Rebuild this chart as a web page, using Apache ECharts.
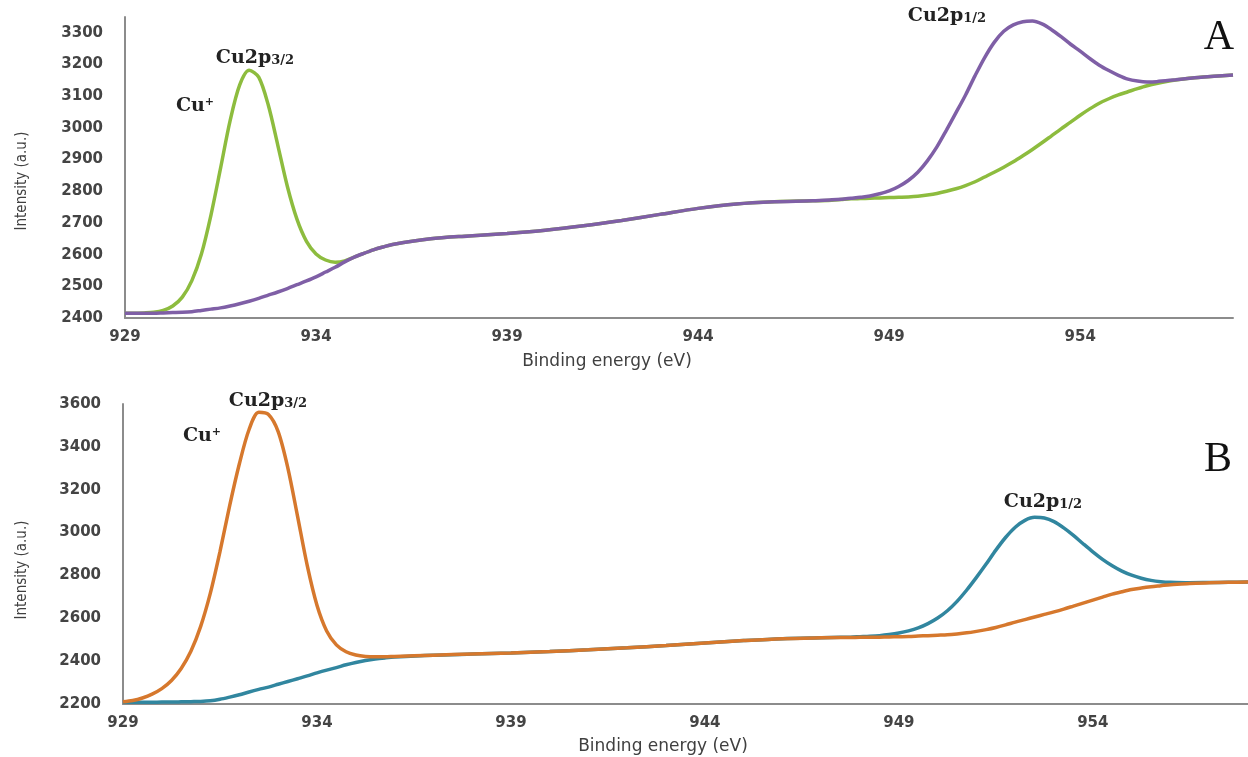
<!DOCTYPE html>
<html>
<head>
<meta charset="utf-8">
<title>Cu2p XPS</title>
<script src="https://cdn.jsdelivr.net/npm/echarts@6/dist/echarts.min.js"></script>
<style>
  body { margin: 0; background: #fff; }
  #chart { width: 1248px; height: 757px; }
</style>
</head>
<body>
<div id="chart"></div>
<script>
// binding energy (eV) sample points, shared by both panels
const energy = [
  929, 929.25, 929.5, 929.75, 930, 930.25, 930.5, 930.75, 931, 931.25,
  931.5, 931.75, 932, 932.25, 932.5, 932.75, 933, 933.25, 933.5, 933.75,
  934, 934.25, 934.5, 934.75, 935, 935.25, 935.5, 935.75, 936,
  937, 938, 939, 940, 941, 942, 943, 944, 945, 946, 947,
  947.5, 947.75, 948, 948.25, 948.5, 948.75, 949, 949.25, 949.5, 949.75,
  950, 950.25, 950.5, 950.75, 951, 951.25, 951.5, 951.75, 952, 952.25,
  952.5, 952.75, 953, 953.25, 953.5, 953.75, 954, 954.25, 954.5, 954.75,
  955, 955.25, 955.5, 955.75, 956,
  956.5, 957, 957.5, 958];

// panel A, green: Cu2p3/2 peak + background under 2p1/2
const greenA = [
  2415, 2415, 2416, 2418, 2424, 2438, 2466, 2518, 2602, 2725,
  2872, 3022, 3135, 3182, 3160, 3072, 2945, 2815, 2712, 2642,
  2602, 2583, 2576, 2580, 2592, 2604, 2615, 2624, 2632,
  2650, 2659, 2667, 2677, 2691, 2708, 2727, 2746, 2760, 2767, 2770,
  2772, 2774, 2776, 2777, 2778, 2779, 2780, 2781, 2782, 2784,
  2788, 2793, 2800, 2808, 2818, 2830, 2845, 2860, 2876, 2893,
  2912, 2932, 2953, 2975, 2997, 3018, 3040, 3060, 3078, 3092,
  3104, 3114, 3124, 3133, 3140,
  3151, 3158, 3163, 3167];
// panel A, purple: background under 2p3/2 + Cu2p1/2 peak
const purpleA = [
  2415, 2415, 2415, 2415, 2416, 2417, 2418, 2420, 2424, 2428,
  2432, 2438, 2445, 2453, 2462, 2472, 2482, 2493, 2505, 2517,
  2530, 2545, 2560, 2577, 2592, 2604, 2615, 2624, 2632,
  2650, 2659, 2667, 2677, 2691, 2708, 2727, 2746, 2760, 2767, 2770,
  2773, 2775, 2778, 2781, 2785, 2792, 2801, 2815, 2834, 2860,
  2896, 2940, 2993, 3048, 3104, 3165, 3222, 3270, 3305, 3325,
  3335, 3337, 3328, 3310, 3288, 3264, 3242, 3219, 3198, 3181,
  3166, 3154, 3148, 3145, 3146,
  3152, 3158, 3163, 3167];

// panel B, orange: Cu2p3/2 peak + background under 2p1/2
const orangeB = [
  2210, 2216, 2228, 2246, 2272, 2310, 2366, 2446, 2561, 2716,
  2911, 3126, 3321, 3481, 3561, 3551, 3471, 3301, 3076, 2846,
  2661, 2541, 2476, 2444, 2429, 2422, 2420, 2420, 2422,
  2428, 2433, 2438, 2445, 2453, 2462, 2473, 2485, 2496, 2505, 2509,
  2510, 2510, 2511, 2511, 2512, 2513, 2514, 2515, 2517, 2519,
  2521, 2523, 2527, 2532, 2539, 2547, 2557, 2569, 2582, 2594,
  2606, 2618, 2630, 2643, 2657, 2671, 2685, 2699, 2713, 2724,
  2734, 2741, 2747, 2752, 2757,
  2762, 2766, 2768, 2769];
// panel B, teal: background under 2p3/2 + Cu2p1/2 peak
const tealB = [
  2208, 2208, 2208, 2208, 2209, 2209, 2210, 2211, 2212, 2215,
  2222, 2232, 2243, 2256, 2268, 2279, 2292, 2305, 2318, 2331,
  2345, 2358, 2370, 2383, 2394, 2403, 2410, 2415, 2419,
  2428, 2433, 2438, 2445, 2453, 2462, 2473, 2485, 2496, 2505, 2509,
  2511, 2512, 2514, 2516, 2519, 2524, 2531, 2541, 2555, 2575,
  2601, 2635, 2679, 2732, 2791, 2853, 2918, 2977, 3025, 3057,
  3071, 3068, 3051, 3022, 2987, 2948, 2910, 2875, 2845, 2820,
  2801, 2787, 2777, 2771, 2768,
  2766, 2767, 2768, 2769];

// tick labels
const xTicks = [929, 934, 939, 944, 949, 954];
const yTicksA = [2400, 2500, 2600, 2700, 2800, 2900, 3000, 3100, 3200, 3300];
const yTicksB = [2200, 2400, 2600, 2800, 3000, 3200, 3400, 3600];

const zip = (xs, ys) => xs.map((x, i) => [x, ys[i]]);

const tickFont = { color: "#444", fontFamily: "DejaVu Sans", fontWeight: "bold", fontSize: 15 };
const axisLine = { show: true, lineStyle: { color: "#8c8c8c", width: 2 } };
const serif = "DejaVu Serif";

function xAxisFor(idx) {
  return {
    type: "value", gridIndex: idx, min: 929, max: 958, interval: 5,
    axisLine: axisLine, axisTick: { show: false }, splitLine: { show: false },
    axisLabel: Object.assign({ margin: 12, showMaxLabel: false,
      formatter: (v) => (xTicks.includes(v) ? String(v) : "") }, tickFont),
  };
}
function yAxisFor(idx, min, max, step, ticks) {
  return {
    type: "value", gridIndex: idx, min: min, max: max, interval: step,
    axisLine: axisLine, axisTick: { show: false }, splitLine: { show: false },
    axisLabel: Object.assign({ margin: 22, showMaxLabel: max === ticks[ticks.length - 1],
      formatter: (v) => (ticks.includes(v) ? String(v) : "") }, tickFont),
  };
}

function peakLabel(x, y, main, sub) {
  return {
    type: "text", x: x, y: y,
    style: {
      text: "{a|" + main + "}{b|" + sub + "}",
      align: "center", verticalAlign: "middle",
      rich: {
        a: { fontFamily: serif, fontWeight: "bold", fontSize: 19, fill: "#222", verticalAlign: "bottom" },
        b: { fontFamily: serif, fontWeight: "bold", fontSize: 13, fill: "#222", verticalAlign: "bottom" },
      },
    },
  };
}
function cuPlus(x, y) {
  return {
    type: "text", x: x, y: y,
    style: {
      text: "{a|Cu}{b|+}", align: "center", verticalAlign: "middle",
      rich: {
        a: { fontFamily: serif, fontWeight: "bold", fontSize: 19, fill: "#222" },
        b: { fontFamily: serif, fontWeight: "bold", fontSize: 11, fill: "#222", verticalAlign: "top" },
      },
    },
  };
}
function axisTitle(x, y, text, rotate) {
  return {
    type: "text", x: x, y: y, rotation: rotate ? Math.PI / 2 : 0,
    style: {
      text: text, align: "center", verticalAlign: "middle", fill: "#404040",
      font: rotate ? '15px "Liberation Sans Narrow", "DejaVu Sans Condensed", sans-serif'
                   : '17px "DejaVu Sans", sans-serif',
    },
  };
}
function panelLetter(x, y, t) {
  return {
    type: "text", x: x, y: y,
    style: { text: t, align: "center", verticalAlign: "middle", fill: "#111",
      font: '42px "Liberation Serif", serif' },
  };
}

function line(axis, ys, color) {
  return { type: "line", xAxisIndex: axis, yAxisIndex: axis, data: zip(energy, ys),
    smooth: 0.3, symbol: "none", lineStyle: { color: color, width: 3.5 } };
}

const chart = echarts.init(document.getElementById("chart"));
chart.setOption({
  animation: false,
  backgroundColor: "#fff",
  grid: [
    { left: 125, top: 17, width: 1108, height: 301 },
    { left: 123, top: 404, width: 1125, height: 300 },
  ],
  xAxis: [xAxisFor(0), xAxisFor(1)],
  yAxis: [
    yAxisFor(0, 2400, 3350, 100, yTicksA),
    yAxisFor(1, 2200, 3600, 200, yTicksB),
  ],
  series: [
    line(0, greenA, "#8dbc3e"),
    line(0, purpleA, "#7f5fa6"),
    line(1, tealB, "#31869f"),
    line(1, orangeB, "#d6782d"),
  ],
  graphic: [
    peakLabel(255, 58, "Cu2p", "3/2"),
    cuPlus(195, 106),
    peakLabel(947, 16, "Cu2p", "1/2"),
    panelLetter(1219, 38, "A"),
    peakLabel(268, 401, "Cu2p", "3/2"),
    cuPlus(202, 436),
    peakLabel(1043, 502, "Cu2p", "1/2"),
    panelLetter(1218, 460, "B"),
    axisTitle(22, 181, "Intensity (a.u.)", true),
    axisTitle(22, 570, "Intensity (a.u.)", true),
    axisTitle(607, 362, "Binding energy (eV)", false),
    axisTitle(663, 747, "Binding energy (eV)", false),
  ],
});
</script>
</body>
</html>
